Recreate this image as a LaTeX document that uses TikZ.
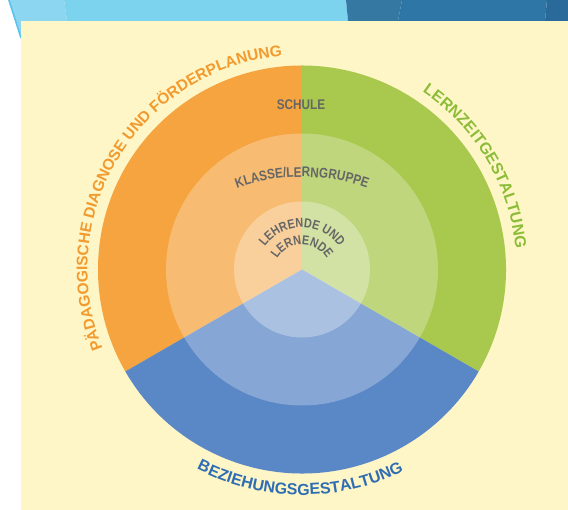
\documentclass[tikz,border=0pt]{standalone}
\usepackage{fontspec}
\setmainfont{Liberation Sans}
\newfontfamily\narrowsans[FakeStretch=0.84]{Liberation Sans}
\usetikzlibrary{decorations.text}
\definecolor{hdrpale}{HTML}{8DD6F1}
\definecolor{hdrlight}{HTML}{7BD3EE}
\definecolor{hdredge}{HTML}{5BC3EB}
\definecolor{hdrdarka}{HTML}{3579A3}
\definecolor{hdrdarkb}{HTML}{2E76A5}
\definecolor{hdrdarkc}{HTML}{296A9B}
\definecolor{bgyellow}{HTML}{FEF6C7}
\definecolor{corange}{HTML}{F5A43F}
\definecolor{cgreen}{HTML}{A8C84E}
\definecolor{cblue}{HTML}{5A87C6}
\definecolor{torange}{HTML}{F29A2E}
\definecolor{tgreen}{HTML}{8DBD38}
\definecolor{tblue}{HTML}{2F6DB3}
\definecolor{tgrey}{HTML}{666666}
\tikzset{
  ringlabel/.style={decorate,decoration={text along path,text align=center,text color=#1}},
}
\begin{document}
\begin{tikzpicture}[x=1pt,y=1pt]
\useasboundingbox (0,0) rectangle (568,510);
\fill[white] (0,0) rectangle (568,510);
% header stripes
\fill[hdrpale] (8,510) -- (64,510) -- (67,489) -- (21,489) -- (21,471) -- cycle;
\fill[hdrlight] (64,510) -- (346,510) -- (348,489) -- (67,489) -- cycle;
\fill[hdrdarka] (346,510) -- (402,510) -- (398,489) -- (348,489) -- cycle;
\fill[hdrdarkb] (402,510) -- (547,510) -- (545,489) -- (398,489) -- cycle;
\fill[hdrdarkc] (547,510) -- (568,510) -- (568,489) -- (545,489) -- cycle;
\draw[hdredge,line width=1.5pt] (9,510) -- (21,472);
% yellow panel
\fill[bgyellow] (21,0) rectangle (568,489);
% circle
\coordinate (C) at (302,240.5);
\fill[corange] (C) -- ++(90:204) arc[start angle=90,end angle=210,radius=204] -- cycle;
\fill[cgreen] (C) -- ++(-30:204) arc[start angle=-30,end angle=90,radius=204] -- cycle;
\fill[cblue] (C) -- ++(210:204) arc[start angle=210,end angle=330,radius=204] -- cycle;
\fill[white,opacity=0.27] (C) circle[radius=136];
\fill[white,opacity=0.3] (C) circle[radius=68];
% outer labels
\path[ringlabel=torange,decoration={text={|\fontsize{15.5}{16}\selectfont\bfseries|PÄDAGOGISCHE DIAGNOSE UND FÖRDERPLANUNG}}]
  ([shift={(238.5:214.5)}]C) arc[start angle=238.5,end angle=58.5,radius=214.5];
\path[ringlabel=tgreen,decoration={text={|\fontsize{16}{16}\selectfont\bfseries|LERNZEITGESTALTUNG}}]
  ([shift={(100.7:214.5)}]C) arc[start angle=100.7,end angle=-39.3,radius=214.5];
\path[ringlabel=tblue,decoration={text={|\fontsize{16}{16}\selectfont\bfseries|BEZIEHUNGSGESTALTUNG}}]
  ([shift={(199.5:225.5)}]C) arc[start angle=199.5,end angle=339.5,radius=225.5];
% inner labels
\node[text=tgrey,font=\narrowsans\fontsize{14}{14}\selectfont\bfseries] (schule) at (301,405.5) {SCHULE};
\coordinate (K) at (302,140);
\path[ringlabel=tgrey,decoration={text={|\narrowsans\fontsize{14}{14}\selectfont\bfseries|KLASSE/LERNGRUPPE}}]
  ([shift={(130:193)}]K) arc[start angle=130,end angle=50,radius=193];
\coordinate (L) at (302,237);
\path[ringlabel=tgrey,decoration={text={|\narrowsans\fontsize{13}{13}\selectfont\bfseries|LEHRENDE UND}}]
  ([shift={(180:45.5)}]L) arc[start angle=180,end angle=0,radius=45.5];
\path[ringlabel=tgrey,decoration={text={|\narrowsans\fontsize{13}{13}\selectfont\bfseries|LERNENDE}}]
  ([shift={(180:28.5)}]L) arc[start angle=180,end angle=0,radius=28.5];
\end{tikzpicture}
\end{document}
